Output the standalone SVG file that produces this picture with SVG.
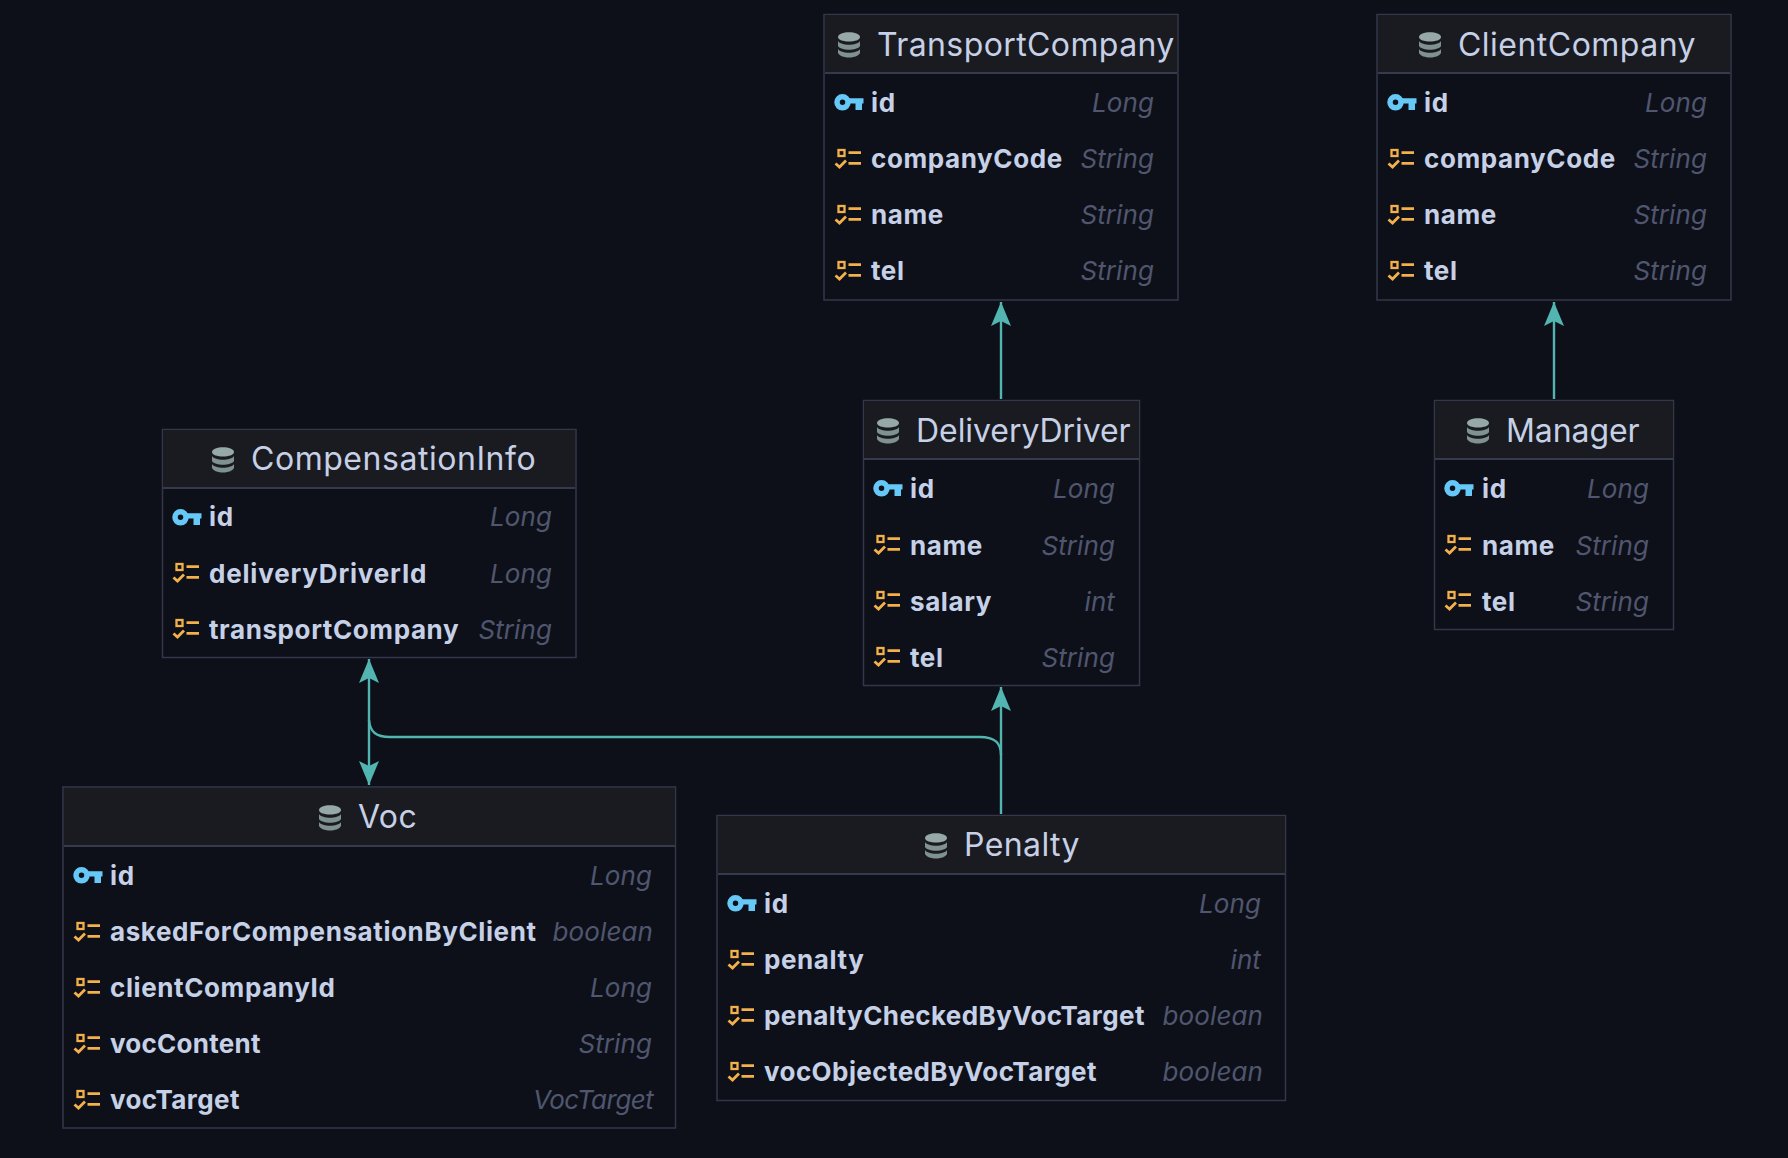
<svg xmlns="http://www.w3.org/2000/svg" width="1788" height="1158" viewBox="0 0 1788 1158">
<style>
text{font-family:Inter,"Liberation Sans",sans-serif}
.box{fill:#0d1018;stroke:#34374a;stroke-width:1.5}
.hd{fill:#1a1b20}
.sep{stroke:#373a4c;stroke-width:2}
.t{font-size:32px;fill:#c6d0e6;letter-spacing:.4px}
.f{font-size:26px;font-weight:700;fill:#c6d0e6;letter-spacing:.6px}
.y{font-size:26px;font-style:italic;fill:#50566f;text-anchor:end;letter-spacing:.1px}
.c{fill:none;stroke:#52b5b1;stroke-width:2.4}
</style>
<defs>
<g id="db"><path d="M0 5C0 -1.500 22 -1.500 22 5C22 11 0 11 0 5Z" fill="#97a8a8"/><path d="M0 9C3 14 19 14 22 9V14C19 19 3 19 0 14Z" fill="#7f9190"/><path d="M0 17C3 22 19 22 22 17V21C19 27 3 27 0 21Z" fill="#7f9190"/></g>
<g id="key"><circle cx="8.500" cy="0.300" r="5.500" fill="none" stroke="#66c8f7" stroke-width="5.500"/><path d="M14 -3.800H29.500V1.500H28V8H21.500V1.500H14Z" fill="#66c8f7"/></g>
<g id="col" fill="none" stroke="#f4b04a" stroke-width="2.800"><rect x="2.500" y="-9" width="6" height="6" stroke-width="2.300"/><path d="M12.500 -6.300H25M12.500 4.300H25M-.5 4.500L3.500 8L10 1.500"/></g>
<marker id="ah" viewBox="0 0 24 24" refX="24" refY="12" markerWidth="24" markerHeight="24" markerUnits="userSpaceOnUse" orient="auto-start-reverse"><path d="M24 12L0 2L5 12L0 22Z" fill="#52b5b1"/></marker>
</defs>
<rect width="1788" height="1158" fill="#0d1018"/>

<g id="connectors">
<path class="c" d="M1001 399V302" marker-end="url(#ah)"/>
<path class="c" d="M1554 399V302" marker-end="url(#ah)"/>
<path class="c" d="M1001 814V687" marker-end="url(#ah)"/>
<path class="c" d="M369 785V659" marker-end="url(#ah)" marker-start="url(#ah)"/>
<path class="c" d="M1001 755C1001 742 994 737 980 737H390C376 737 370 732 369 720"/>
</g>

<g id="TransportCompany">
<rect class="box" x="824" y="14.500" width="354" height="285.500"/><rect class="hd" x="825" y="15" width="352" height="57"/><path class="sep" d="M825 73H1177"/>
<use href="#db" x="838" y="32"/><text class="t" x="877" y="56">TransportCompany</text>
<use href="#key" x="834" y="102"/><text class="f" x="871" y="112">id</text><text class="y" x="1154" y="112">Long</text>
<use href="#col" x="836" y="159"/><text class="f" x="871" y="168">companyCode</text><text class="y" x="1154" y="168">String</text>
<use href="#col" x="836" y="215"/><text class="f" x="871" y="224">name</text><text class="y" x="1154" y="224">String</text>
<use href="#col" x="836" y="271"/><text class="f" x="871" y="280">tel</text><text class="y" x="1154" y="280">String</text>
</g>

<g id="ClientCompany">
<rect class="box" x="1377" y="14.500" width="354" height="285.500"/><rect class="hd" x="1378" y="15" width="352" height="57"/><path class="sep" d="M1378 73H1730"/>
<use href="#db" x="1419" y="32"/><text class="t" x="1458" y="56" textLength="238">ClientCompany</text>
<use href="#key" x="1387" y="102"/><text class="f" x="1424" y="112">id</text><text class="y" x="1707" y="112">Long</text>
<use href="#col" x="1389" y="159"/><text class="f" x="1424" y="168">companyCode</text><text class="y" x="1707" y="168">String</text>
<use href="#col" x="1389" y="215"/><text class="f" x="1424" y="224">name</text><text class="y" x="1707" y="224">String</text>
<use href="#col" x="1389" y="271"/><text class="f" x="1424" y="280">tel</text><text class="y" x="1707" y="280">String</text>
</g>

<g id="DeliveryDriver">
<rect class="box" x="863.500" y="400.500" width="276" height="285"/><rect class="hd" x="864" y="401" width="275" height="57"/><path class="sep" d="M864 459H1139"/>
<use href="#db" x="877" y="418"/><text class="t" x="916" y="442" textLength="215">DeliveryDriver</text>
<use href="#key" x="873" y="488"/><text class="f" x="910" y="498">id</text><text class="y" x="1115" y="498">Long</text>
<use href="#col" x="875" y="545"/><text class="f" x="910" y="555">name</text><text class="y" x="1115" y="555">String</text>
<use href="#col" x="875" y="601"/><text class="f" x="910" y="611">salary</text><text class="y" x="1115" y="611">int</text>
<use href="#col" x="875" y="657"/><text class="f" x="910" y="667">tel</text><text class="y" x="1115" y="667">String</text>
</g>

<g id="Manager">
<rect class="box" x="1434.500" y="400.500" width="239" height="229"/><rect class="hd" x="1435" y="401" width="238" height="57"/><path class="sep" d="M1435 459H1673"/>
<use href="#db" x="1467" y="418"/><text class="t" x="1506" y="442" textLength="134">Manager</text>
<use href="#key" x="1444" y="488"/><text class="f" x="1482" y="498">id</text><text class="y" x="1649" y="498">Long</text>
<use href="#col" x="1446" y="545"/><text class="f" x="1482" y="555">name</text><text class="y" x="1649" y="555">String</text>
<use href="#col" x="1446" y="601"/><text class="f" x="1482" y="611">tel</text><text class="y" x="1649" y="611">String</text>
</g>

<g id="CompensationInfo">
<rect class="box" x="162.500" y="429.500" width="413.500" height="228"/><rect class="hd" x="163" y="430" width="412" height="57"/><path class="sep" d="M163 488H575"/>
<use href="#db" x="212" y="447"/><text class="t" x="251" y="470" textLength="285">CompensationInfo</text>
<use href="#key" x="172" y="517"/><text class="f" x="209" y="526">id</text><text class="y" x="552" y="526">Long</text>
<use href="#col" x="174" y="573"/><text class="f" x="209" y="583" textLength="218">deliveryDriverId</text><text class="y" x="552" y="583">Long</text>
<use href="#col" x="174" y="629"/><text class="f" x="209" y="639">transportCompany</text><text class="y" x="552" y="639">String</text>
</g>

<g id="Voc">
<rect class="box" x="63" y="787" width="612.500" height="341"/><rect class="hd" x="64" y="788" width="611" height="57"/><path class="sep" d="M64 846H675"/>
<use href="#db" x="319" y="805"/><text class="t" x="358" y="828">Voc</text>
<use href="#key" x="73" y="875"/><text class="f" x="110" y="885">id</text><text class="y" x="652" y="885">Long</text>
<use href="#col" x="75" y="932"/><text class="f" x="110" y="941">askedForCompensationByClient</text><text class="y" x="653" y="941">boolean</text>
<use href="#col" x="75" y="988"/><text class="f" x="110" y="997">clientCompanyId</text><text class="y" x="652" y="997">Long</text>
<use href="#col" x="75" y="1044"/><text class="f" x="110" y="1053" textLength="151">vocContent</text><text class="y" x="652" y="1053">String</text>
<use href="#col" x="75" y="1100"/><text class="f" x="110" y="1109" textLength="130">vocTarget</text><text class="y" x="654" y="1109" textLength="121">VocTarget</text>
</g>

<g id="Penalty">
<rect class="box" x="717" y="815.500" width="568.500" height="285"/><rect class="hd" x="718" y="816" width="567" height="57"/><path class="sep" d="M718 874H1285"/>
<use href="#db" x="925" y="833"/><text class="t" x="964" y="856">Penalty</text>
<use href="#key" x="727" y="903"/><text class="f" x="764" y="913">id</text><text class="y" x="1261" y="913">Long</text>
<use href="#col" x="729" y="960"/><text class="f" x="764" y="969">penalty</text><text class="y" x="1261" y="969">int</text>
<use href="#col" x="729" y="1016"/><text class="f" x="764" y="1025" textLength="381">penaltyCheckedByVocTarget</text><text class="y" x="1263" y="1025">boolean</text>
<use href="#col" x="729" y="1072"/><text class="f" x="764" y="1081" textLength="333">vocObjectedByVocTarget</text><text class="y" x="1263" y="1081">boolean</text>
</g>
</svg>
